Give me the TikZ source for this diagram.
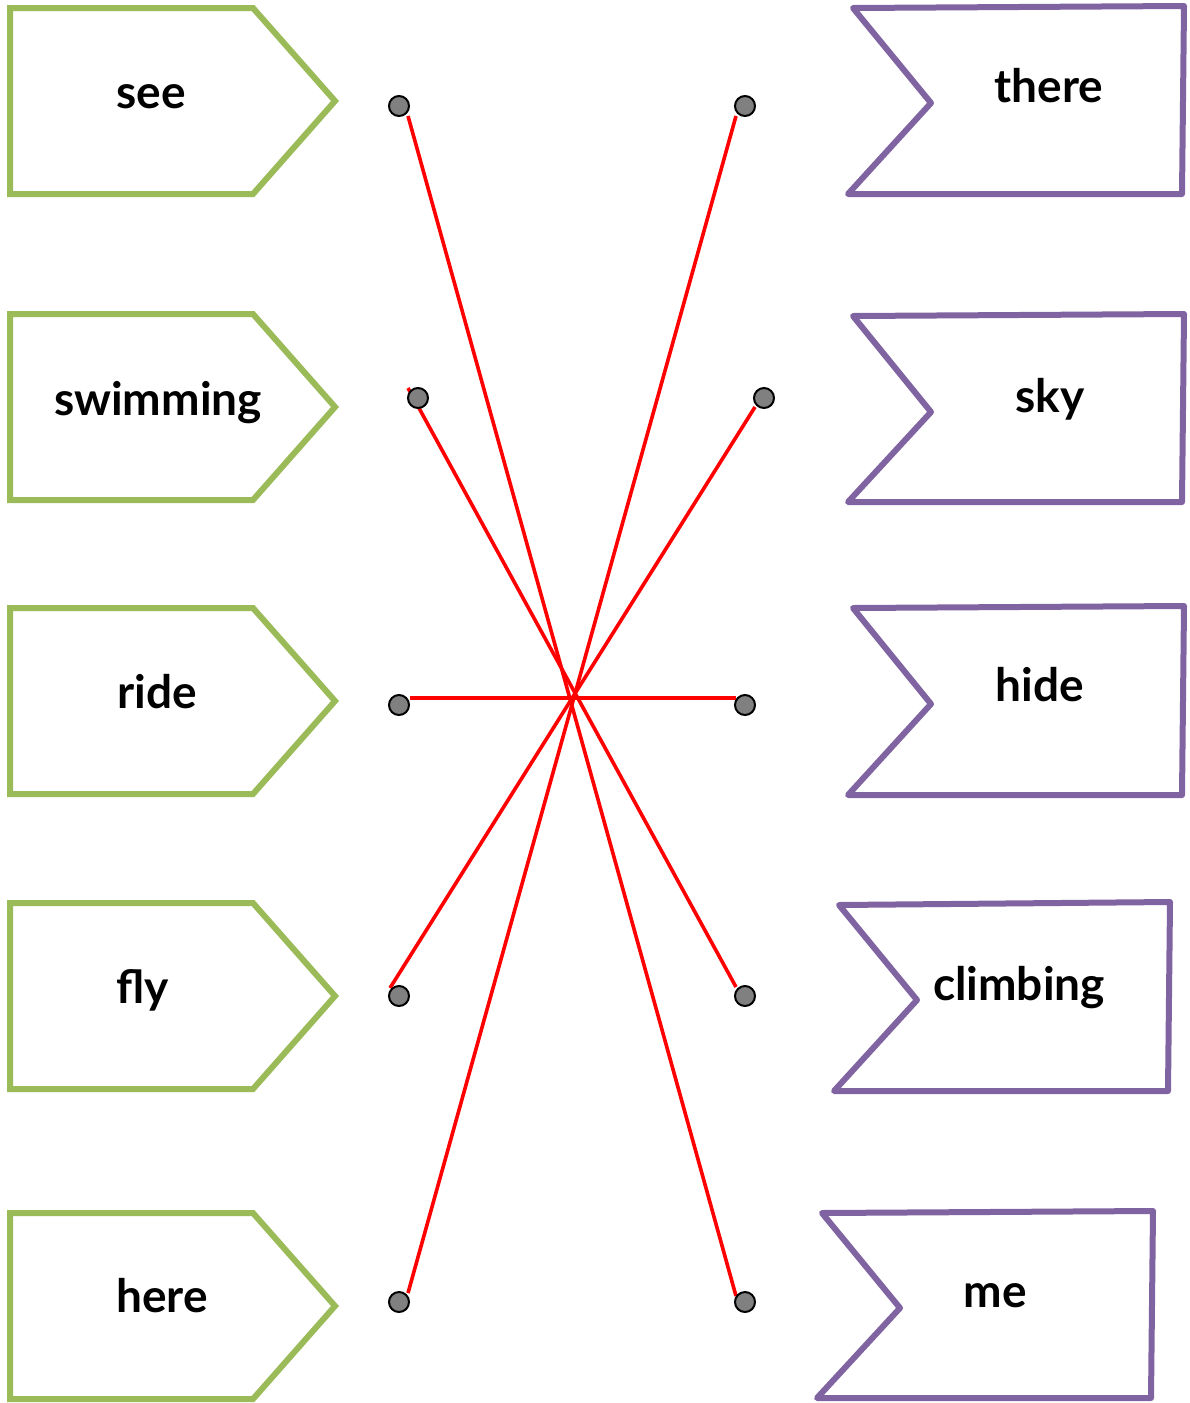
\documentclass[tikz,border=0pt]{standalone}
\usepackage{fontspec}
\setmainfont{Lato}
\definecolor{lgreen}{HTML}{9BBB59}
\definecolor{lpurple}{HTML}{8064A2}
\definecolor{dotgray}{HTML}{808080}
\begin{document}
\begin{tikzpicture}[x=0.5pt,y=-0.5pt,
  greenbox/.style={draw=lgreen,line width=3pt,fill=white},
  purplebox/.style={draw=lpurple,line width=3pt,line join=round,fill=white},
  word/.style={font=\bfseries\fontsize{23}{27}\selectfont,anchor=base,inner sep=0pt},
  dotnode/.style={circle,draw=black,line width=1pt,fill=dotgray,minimum size=10pt,inner sep=0pt},
  link/.style={draw=red,line width=1.8pt}]
\useasboundingbox (0,0) rectangle (1189,1403);
% left green boxes
\foreach \t in {8,314,608,903,1213}{
  \draw[greenbox] (10,\t) -- (253,\t) -- (335,\t+93) -- (253,\t+186) -- (10,\t+186) -- cycle;
}
% right purple boxes
\draw[purplebox] (853,8) -- (1184,6) -- (1182,194) -- (848,194) -- (931,103) -- cycle;
\draw[purplebox] (853,316) -- (1184,314) -- (1182,502) -- (848,502) -- (931,412) -- cycle;
\draw[purplebox] (853,608) -- (1184,606) -- (1182,795) -- (848,795) -- (931,704) -- cycle;
\draw[purplebox] (839,905) -- (1170,902) -- (1168,1091) -- (834,1091) -- (917,1000) -- cycle;
\draw[purplebox] (822,1213) -- (1153,1211) -- (1151,1398) -- (817,1398) -- (900,1308) -- cycle;
% words
\node[word] (see) at (151,108) {see};
\node[word] (swimming) at (158,415) {swimming};
\node[word] (ride) at (157,708) {ride};
\node[word] (fly) at (143,1003) {fly};
\node[word] (here) at (162,1312) {here};
\node[word] (there) at (1049,102) {there};
\node[word] (sky) at (1050,412) {sky};
\node[word] (hide) at (1040,701) {hide};
\node[word] (climbing) at (1019,1000) {climbing};
\node[word] (me) at (995,1307) {me};
% line ends
\coordinate (a1) at (408,116);  \coordinate (b5) at (736,1296);
\coordinate (b1) at (736,116);  \coordinate (a5) at (408,1293);
\coordinate (a2) at (408,388);  \coordinate (b4) at (736,987);
\coordinate (b2) at (755,407);  \coordinate (a4) at (390,988);
\coordinate (a3) at (410,698);  \coordinate (b3) at (736,698);
\draw[link] (a1) -- (b5);
\draw[link] (b1) -- (a5);
\draw[link] (a2) -- (b4);
\draw[link] (b2) -- (a4);
\draw[link] (a3) -- (b3);
% dots
\node[dotnode] (d1) at (399,106) {};
\node[dotnode] (d2) at (418,398) {};
\node[dotnode] (d3) at (399,705) {};
\node[dotnode] (d4) at (399,996) {};
\node[dotnode] (d5) at (399,1302) {};
\node[dotnode] (e1) at (745,106) {};
\node[dotnode] (e2) at (764,398) {};
\node[dotnode] (e3) at (745,705) {};
\node[dotnode] (e4) at (745,996) {};
\node[dotnode] (e5) at (745,1302) {};
\end{tikzpicture}
\end{document}
